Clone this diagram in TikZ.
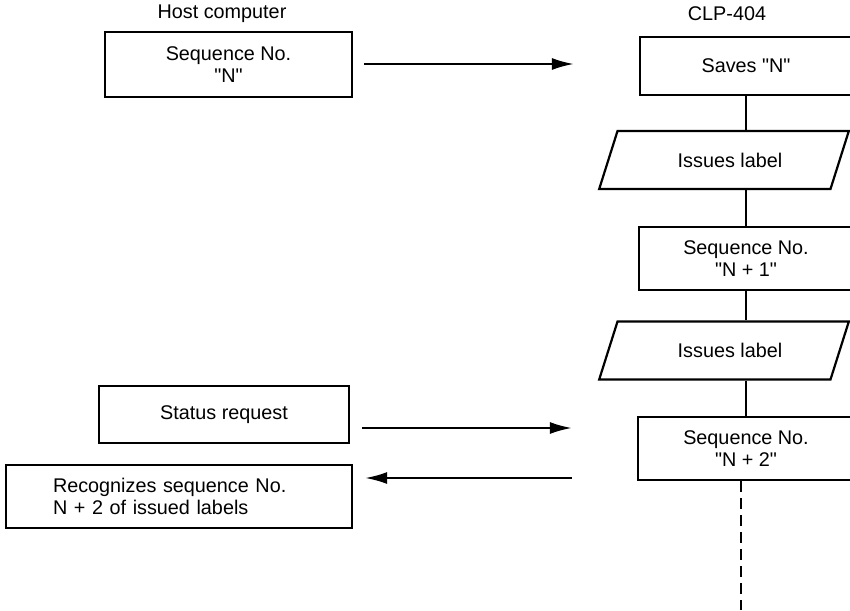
\documentclass[tikz,border=0pt]{standalone}
\usepackage{fontspec}
\setmainfont{Liberation Sans}[Ligatures=TeXOff]
\usetikzlibrary{arrows.meta,shapes.geometric}
\begin{document}
\begin{tikzpicture}[x=1pt,y=-1pt,
  every node/.style={font=\fontsize{19.8}{22}\selectfont},
  box/.style={draw,line width=2.2pt,rectangle,inner sep=0pt,align=center},
  para/.style={draw,line width=2.2pt,trapezium,trapezium left angle=55.4,trapezium right angle=124.6,
    trapezium stretches=true,minimum width=250pt,minimum height=58pt,inner sep=0pt},
  link/.style={line width=2pt},
  arr/.style={line width=2.2pt,-{Latex[length=22pt,width=12pt]}},
  dashlink/.style={line width=2pt,dash pattern=on 11pt off 6pt}
]
\useasboundingbox (0,0) rectangle (850,610);
% headings
\node (hostlbl) at (222,14) {Host computer};
\node (clplbl) at (727,14) {CLP-404};
% host side
\node[box,minimum width=247pt,minimum height=65pt] (seqN) at (228.5,64.5) {Sequence No.\\"N"};
\node[box,minimum width=250pt,minimum height=57pt] (status) at (224,414.5) {Status request};
\node[box,minimum width=346pt,minimum height=63pt,align=left,text width=252pt,inner xsep=47pt] (recog) at (179,496.5) {Recognizes sequence No.\\N + 2 of issued labels};
% CLP side
\node[box,minimum width=212pt,minimum height=58pt] (saves) at (746,66) {Saves "N"};
\node[para] (iss1) at (724,160) {\hspace*{12pt}Issues label};
\node[box,minimum width=214pt,minimum height=63pt] (seq1) at (746,258.5) {Sequence No.\\"N + 1"};
\node[para] (iss2) at (724,350.5) {\hspace*{12pt}Issues label};
\node[box,minimum width=216pt,minimum height=63pt] (seq2) at (746,448.5) {Sequence No.\\"N + 2"};
\coordinate (dashend) at (741,610);
% flow lines
\draw[link] (saves.south) -- (saves.south |- iss1.north);
\draw[link] (seq1.north |- iss1.south) -- (seq1.north);
\draw[link] (seq1.south) -- (seq1.south |- iss2.north);
\draw[link] (seq2.north |- iss2.south) -- (seq2.north);
\draw[dashlink] ([xshift=-5pt]seq2.south) -- (dashend);
% arrows
\draw[arr,shorten <=11pt,shorten >=65pt] ([yshift=0.5pt]seqN.east) -- ([yshift=2pt]saves.west);
\draw[arr,shorten <=12pt,shorten >=65pt] ([yshift=-13.5pt]status.east) -- ([yshift=20.5pt]seq2.west);
\draw[arr,shorten <=65pt,shorten >=12pt] ([yshift=-29.5pt]seq2.west) -- ([yshift=18.5pt]recog.east);
\end{tikzpicture}
\end{document}
